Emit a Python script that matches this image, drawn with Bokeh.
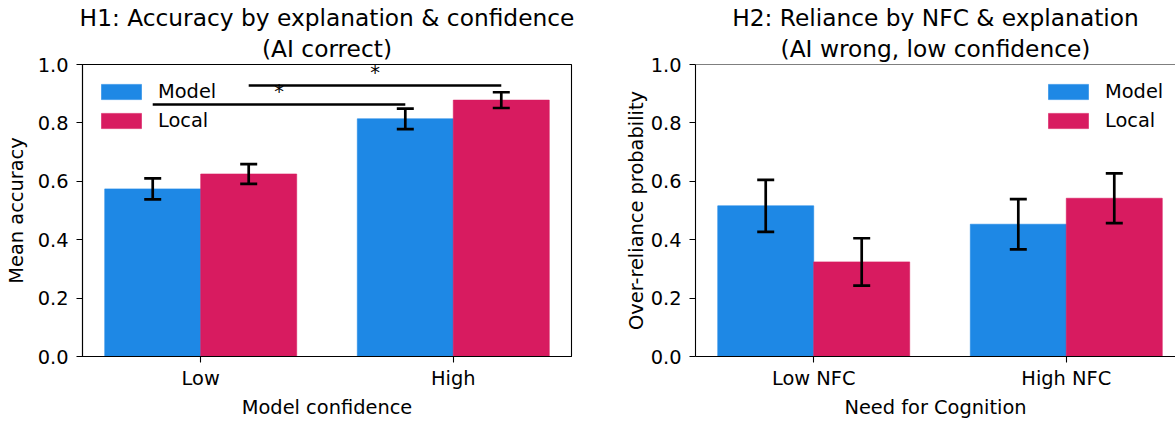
from bokeh.plotting import figure
from bokeh.models import (ColumnDataSource, Range1d, FixedTicker, PrintfTickFormatter,
                          Whisker, TeeHead, Span, Title)
from bokeh.layouts import row
from bokeh.core.properties import value
from bokeh.embed import file_html
from bokeh.resources import INLINE

# ---------------- data ----------------
h1_categories = ["Low", "High"]
h1_model = [0.574, 0.814]
h1_model_err = [0.036, 0.035]
h1_local = [0.625, 0.878]
h1_local_err = [0.034, 0.027]
# significance comparisons: (category index, series index) pairs, bar heights
h1_sig_from = [(0, 0), (0, 1)]
h1_sig_to = [(1, 0), (1, 1)]
h1_sig_y = [0.863, 0.928]
h1_sig_text = ["*", "*"]

h2_categories = ["Low NFC", "High NFC"]
h2_model = [0.516, 0.453]
h2_model_err = [0.089, 0.086]
h2_local = [0.324, 0.542]
h2_local_err = [0.081, 0.085]

series_names = ["Model", "Local"]
series_colors = ["#1E88E5", "#D81B60"]
y_ticks = [0.0, 0.2, 0.4, 0.6, 0.8, 1.0]

# ---------------- style ----------------
FONT = "DejaVu Sans"
TICK_FS = "19.4px"
TITLE_FS = "23.3px"
BAR_W = 0.38
OFFSET = 0.19
LW = 2.7
SPINE = 1.1
FIG_H = 421
TOP = 64


def add_titles(p, line1, line2):
    for txt, so in ((line2, 5), (line1, 0)):
        t = Title(text=txt, align="center", text_font=FONT, text_font_size=TITLE_FS,
                  text_font_style="normal", text_color="black", standoff=so)
        p.add_layout(t, "above")


def style_axes(p, xlabels, xlabel, ylabel):
    p.xaxis.ticker = FixedTicker(ticks=list(range(len(xlabels))))
    p.xaxis.major_label_overrides = {i: lab for i, lab in enumerate(xlabels)}
    p.yaxis.ticker = FixedTicker(ticks=y_ticks)
    p.yaxis.formatter = PrintfTickFormatter(format="%.1f")
    p.xaxis.axis_label = xlabel
    p.yaxis.axis_label = ylabel
    for ax in (p.xaxis, p.yaxis):
        ax.axis_line_color = "black"
        ax.axis_line_width = SPINE
        ax.major_tick_line_color = "black"
        ax.major_tick_line_width = SPINE
        ax.major_tick_out = 6
        ax.major_tick_in = 0
        ax.minor_tick_out = 0
        ax.minor_tick_in = 0
        ax.major_label_text_font = FONT
        ax.major_label_text_font_size = TICK_FS
        ax.major_label_text_color = "black"
        ax.axis_label_text_font = FONT
        ax.axis_label_text_font_size = TICK_FS
        ax.axis_label_text_font_style = "normal"
        ax.axis_label_text_color = "black"
    p.xaxis.major_label_standoff = 4
    p.xaxis.axis_label_standoff = 3
    p.yaxis.major_label_standoff = 8
    p.xgrid.visible = False
    p.ygrid.visible = False


def draw_bars(p, categories, means, errs, legend_xy):
    xs = list(range(len(categories)))
    for s, (name, color, m, e) in enumerate(zip(series_names, series_colors, means, errs)):
        off = -OFFSET if s == 0 else OFFSET
        src = ColumnDataSource(dict(
            x=[x + off for x in xs], top=m,
            lower=[a - b for a, b in zip(m, e)],
            upper=[a + b for a, b in zip(m, e)]))
        p.vbar(x="x", top="top", bottom=0, width=BAR_W, source=src,
               fill_color=color, line_color=color, line_width=0.6, legend_label=name)
        w = Whisker(source=src, base="x", lower="lower", upper="upper",
                    dimension="height", line_color="black", line_width=LW, level="overlay",
                    upper_head=TeeHead(size=17, line_color="black", line_width=LW),
                    lower_head=TeeHead(size=17, line_color="black", line_width=LW))
        p.add_layout(w)
    lg = p.legend[0]
    lg.location = legend_xy
    lg.border_line_color = None
    lg.background_fill_alpha = 0
    lg.padding = 0
    lg.margin = 0
    lg.spacing = 6
    lg.glyph_width = 50
    lg.glyph_height = 19
    lg.label_standoff = 12
    lg.label_text_font = FONT
    lg.label_text_font_size = TICK_FS
    lg.label_text_color = "black"


# x extents from bars with a 5% margin
lo = -OFFSET - BAR_W / 2
hi = (len(h1_categories) - 1) + OFFSET + BAR_W / 2
pad = 0.05 * (hi - lo)
x0, x1 = lo - pad, hi + pad
FRAME_W1 = 489
px_per_unit = FRAME_W1 / (x1 - x0)
FRAME_W2 = 480

# ---------------- left panel ----------------
p1 = figure(width=600, height=FIG_H, output_backend="svg", toolbar_location=None,
            x_range=Range1d(x0, x1), y_range=Range1d(0, 1.0),
            min_border_left=82, min_border_right=29, min_border_top=TOP, min_border_bottom=0)
p1.outline_line_color = "black"
p1.outline_line_width = SPINE
p1.outline_line_alpha = 1
add_titles(p1, "H1: Accuracy by explanation & confidence", "(AI correct)")
draw_bars(p1, h1_categories, [h1_model, h1_local], [h1_model_err, h1_local_err], (14, 224))
style_axes(p1, h1_categories, "Model confidence", "Mean accuracy")
p1.yaxis.axis_label_standoff = 7

sx0 = [c + (-OFFSET if s == 0 else OFFSET) for c, s in h1_sig_from]
sx1 = [c + (-OFFSET if s == 0 else OFFSET) for c, s in h1_sig_to]
p1.segment(x0=sx0, y0=h1_sig_y, x1=sx1, y1=h1_sig_y, line_color="black", line_width=LW)
p1.text(x=[(a + b) / 2 for a, b in zip(sx0, sx1)], y=[y + 0.045 for y in h1_sig_y],
        text=h1_sig_text, text_align="center", text_baseline="alphabetic",
        text_font=value(FONT), text_font_size=TICK_FS, text_color="black")

# ---------------- right panel ----------------
p2 = figure(width=95 + FRAME_W2, height=FIG_H, output_backend="svg", toolbar_location=None,
            x_range=Range1d(x0, x0 + FRAME_W2 / px_per_unit), y_range=Range1d(0, 1.0),
            min_border_left=95, min_border_right=0, min_border_top=TOP, min_border_bottom=0)
p2.outline_line_color = None
p2.add_layout(Span(location=1.0, dimension="width", line_color="black", line_width=SPINE))
add_titles(p2, "H2: Reliance by NFC & explanation", "(AI wrong, low confidence)")
draw_bars(p2, h2_categories, [h2_model, h2_local], [h2_model_err, h2_local_err], (348, 224))
style_axes(p2, h2_categories, "Need for Cognition", "Over-reliance probability")
p2.yaxis.axis_label_standoff = 0

layout = row(p1, p2)
open("out.html", "w").write(file_html(layout, INLINE))
